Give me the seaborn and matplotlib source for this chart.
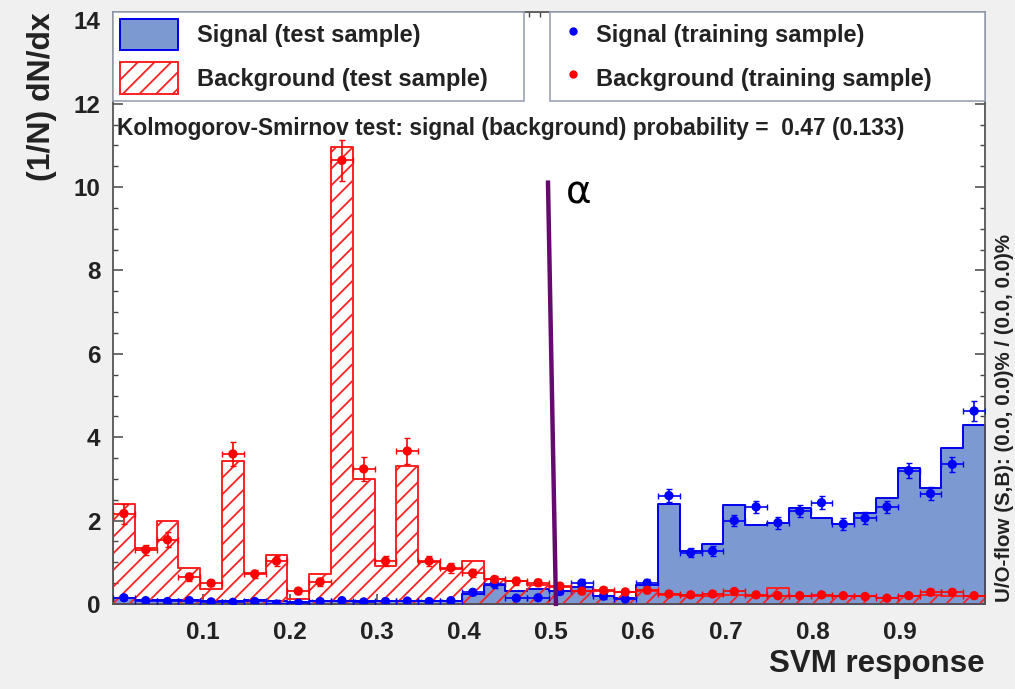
import numpy as np
import pandas as pd
import matplotlib
matplotlib.use("Agg")
import matplotlib.pyplot as plt
from matplotlib.patches import Patch
from matplotlib.lines import Line2D
from matplotlib.ticker import MultipleLocator, AutoMinorLocator
import seaborn as sns

# ---- binning of the SVM response ----
x_min, x_max, n_bins = -0.003, 0.998, 40

# ---- normalised distributions (1/N dN/dx) ----
sig_test = [0.14, 0.10, 0.09, 0.10, 0.08, 0.07, 0.09, 0.06, 0.05, 0.06,
            0.07, 0.06, 0.08, 0.07, 0.07, 0.08, 0.25, 0.45, 0.30, 0.35,
            0.30, 0.40, 0.20, 0.15, 0.45, 2.40, 1.27, 1.44, 2.38, 1.90,
            1.95, 2.30, 2.07, 1.92, 2.18, 2.54, 3.27, 2.79, 3.75, 4.30]
bkg_test = [2.40, 1.35, 2.00, 0.86, 0.35, 3.43, 0.75, 1.18, 0.12, 0.72,
            10.95, 3.00, 0.90, 3.31, 1.00, 0.85, 1.03, 0.60, 0.55, 0.45,
            0.40, 0.30, 0.30, 0.28, 0.30, 0.22, 0.20, 0.20, 0.22, 0.20,
            0.38, 0.20, 0.20, 0.18, 0.20, 0.15, 0.18, 0.22, 0.20, 0.18]
sig_train = [0.15, 0.08, 0.06, 0.08, 0.05, 0.04, 0.06, 0.00, 0.02, 0.06,
             0.08, 0.05, 0.06, 0.07, 0.06, 0.08, 0.28, 0.48, 0.14, 0.15,
             0.30, 0.50, 0.19, 0.12, 0.50, 2.60, 1.23, 1.27, 2.00, 2.33,
             1.95, 2.23, 2.43, 1.92, 2.06, 2.33, 3.20, 2.65, 3.35, 4.63]
sig_train_err = [0.05, 0.04, 0.04, 0.04, 0.03, 0.03, 0.04, 0.02, 0.02, 0.04,
                 0.04, 0.03, 0.04, 0.04, 0.04, 0.04, 0.07, 0.09, 0.05, 0.05,
                 0.07, 0.09, 0.06, 0.05, 0.09, 0.16, 0.11, 0.11, 0.14, 0.15,
                 0.14, 0.15, 0.15, 0.14, 0.14, 0.15, 0.18, 0.16, 0.18, 0.24]
bkg_train = [2.17, 1.30, 1.54, 0.65, 0.50, 3.60, 0.72, 1.03, 0.31, 0.53,
             10.64, 3.24, 1.03, 3.67, 1.03, 0.87, 0.74, 0.59, 0.55, 0.51,
             0.43, 0.31, 0.33, 0.29, 0.33, 0.24, 0.22, 0.24, 0.30, 0.22,
             0.20, 0.20, 0.22, 0.20, 0.18, 0.14, 0.20, 0.28, 0.28, 0.20]
bkg_train_err = [0.24, 0.12, 0.18, 0.10, 0.08, 0.28, 0.10, 0.13, 0.07, 0.09,
                 0.50, 0.28, 0.13, 0.30, 0.13, 0.12, 0.10, 0.09, 0.09, 0.09,
                 0.08, 0.07, 0.07, 0.07, 0.07, 0.06, 0.06, 0.06, 0.07, 0.06,
                 0.06, 0.06, 0.06, 0.06, 0.05, 0.05, 0.06, 0.07, 0.07, 0.06]

ks_text = "Kolmogorov-Smirnov test: signal (background) probability =  0.47 (0.133)"
flow_text = "U/O-flow (S,B): (0.0, 0.0)% / (0.0, 0.0)%"

# cut line drawn across the response axis
cut_x = [0.4963, 0.5055]
cut_y = [10.16, -0.05]
cut_label = "α"

# ---- colours ----
sig_fill = "#7d99d1"
sig_line = "#0000ee"
bkg_line = "#ff2020"
cut_color = "#650a6e"

sns.set_theme(style="white")
plt.rcParams["font.family"] = ["Liberation Sans", "DejaVu Sans"]
plt.rcParams["hatch.linewidth"] = 1.3

edges = np.linspace(x_min, x_max, n_bins + 1)
centers = 0.5 * (edges[:-1] + edges[1:])
half_w = 0.5 * (edges[1] - edges[0])

df = pd.DataFrame({
    "response": centers,
    "sig_test": sig_test,
    "bkg_test": bkg_test,
    "sig_train": sig_train,
    "bkg_train": bkg_train,
})

fig = plt.figure(figsize=(10.15, 6.89), dpi=100, facecolor="#f0f0f0")
ax = fig.add_axes([113 / 1015, 1 - 604 / 689, 872 / 1015, 592 / 689])
ax.set_facecolor("white")

# test-sample histograms
sns.histplot(data=df, x="response", weights="sig_test", bins=list(edges),
             element="step", fill=True, color=sig_fill, facecolor=sig_fill,
             edgecolor=sig_line, linewidth=1.4, ax=ax, zorder=1)
sns.histplot(data=df, x="response", weights="bkg_test", bins=list(edges),
             element="step", fill=True, color=bkg_line, facecolor="none",
             edgecolor=bkg_line, hatch="//", linewidth=1.4, ax=ax, zorder=2)

# training-sample points with errors
ax.errorbar(centers, sig_train, xerr=half_w, yerr=sig_train_err, fmt="none",
            ecolor="#0000ff", elinewidth=1.2, capsize=2, zorder=3)
ax.errorbar(centers, bkg_train, xerr=half_w, yerr=bkg_train_err, fmt="none",
            ecolor="#ff0000", elinewidth=1.2, capsize=2, zorder=3)
sns.scatterplot(data=df, x="response", y="sig_train", color="#0000ff", s=45,
                edgecolor="none", ax=ax, zorder=4, legend=False)
sns.scatterplot(data=df, x="response", y="bkg_train", color="#ff0000", s=45,
                edgecolor="none", ax=ax, zorder=4, legend=False)

ax.set_xlim(x_min, x_max)
ax.set_ylim(0, 14.2)

# axes styling
for sp in ax.spines.values():
    sp.set_color("#555555")
    sp.set_linewidth(1.3)
ax.xaxis.set_major_locator(MultipleLocator(0.1))
ax.xaxis.set_minor_locator(AutoMinorLocator(8))
ax.yaxis.set_major_locator(MultipleLocator(2))
ax.yaxis.set_minor_locator(AutoMinorLocator(4))
ax.tick_params(which="both", direction="in", top=True, right=True, bottom=True,
               left=True, color="#444444")
ax.tick_params(which="major", length=7, width=1.1)
ax.tick_params(which="minor", length=3.5, width=1.0)
ax.tick_params(axis="x", which="major", pad=12, labelsize=17.5, labelcolor="#222222")
ax.tick_params(axis="y", which="major", pad=9, labelsize=17.5, labelcolor="#222222")
xt = np.round(np.arange(0.1, 0.95, 0.1), 1)
ax.set_xticks(xt)
ax.set_xticklabels([f"{v:.1f}" for v in xt])
for lab in ax.get_xticklabels() + ax.get_yticklabels():
    lab.set_fontweight("bold")

ax.set_xlabel("SVM response", fontsize=22.5, fontweight="bold", color="#222222", loc="right")
ax.xaxis.set_label_coords(1.0, -0.076)
ax.set_ylabel("(1/N) dN/dx", fontsize=23, fontweight="bold", color="#222222", loc="top")
ax.yaxis.set_label_coords(-0.064, 1.0)

# legends
h_sig = Patch(facecolor=sig_fill, edgecolor=sig_line, linewidth=1.4)
h_bkg = Patch(facecolor="white", edgecolor=bkg_line, hatch="//", linewidth=1.4)
leg_kw = dict(loc="upper left", mode="expand", borderaxespad=0, fancybox=False,
              framealpha=1, facecolor="white", edgecolor="#9aa3b5",
              prop={"family": "Liberation Sans", "weight": "bold", "size": 17},
              labelcolor="#222222", borderpad=0.3, labelspacing=0.5,
              handleheight=1.67)
leg1 = ax.legend([h_sig, h_bkg], ["Signal (test sample)", "Background (test sample)"],
                 bbox_to_anchor=(0, 0, 0.471, 1), handlelength=2.46, handletextpad=0.8,
                 **leg_kw)
leg1.get_frame().set_linewidth(1.2)
leg1.set_zorder(5)
ax.add_artist(leg1)
h_st = Line2D([], [], ls="none", marker="o", ms=6, color="#0000ff", mec="none")
h_bt = Line2D([], [], ls="none", marker="o", ms=6, color="#ff0000", mec="none")
leg2 = ax.legend([h_st, h_bt], ["Signal (training sample)", "Background (training sample)"],
                 bbox_to_anchor=(0.501, 0, 0.499, 1), handlelength=1.4,
                 handletextpad=0.25, **leg_kw)
leg2.get_frame().set_linewidth(1.2)
leg2.set_zorder(5)

ax.text(0.005, 0.803, ks_text, transform=ax.transAxes, ha="left", va="center",
        fontsize=16.4, fontweight="bold", color="#222222", zorder=6)

# cut line and its label
ax.plot(cut_x, cut_y, color=cut_color, lw=3.2, solid_capstyle="butt",
        clip_on=False, zorder=7)
ax.text(cut_x[0] + 0.02, cut_y[0] - 0.28, cut_label, ha="left", va="center",
        fontsize=28, family="DejaVu Sans", color="black", zorder=7)

fig.text(1004 / 1015, 1 - 602 / 689, flow_text, rotation=90, ha="center", va="bottom",
         fontsize=14.8, fontweight="bold", color="#222222")

fig.savefig("out.png", dpi=100, facecolor=fig.get_facecolor())
